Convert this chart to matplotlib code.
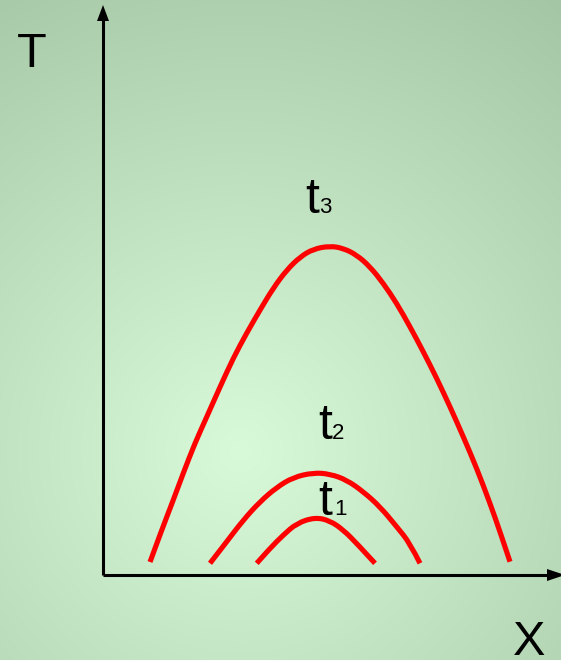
import numpy as np
import matplotlib
matplotlib.use("Agg")
import matplotlib.pyplot as plt
from matplotlib.path import Path
from matplotlib.patches import PathPatch

# Data (units: X from axis origin to the right, T upward from the axis)
t3_x = [47, 58.7, 70.3, 80.3, 92, 103.7, 117, 130.3, 143.7, 157, 170.3, 183.7, 197, 210.3, 227,
        240.3, 253.7, 267, 280.3, 293.7, 307, 320.3, 333.7, 347, 360.3, 373.7, 387, 397, 407]
t3_y = [13, 45, 75, 102, 132, 158, 188, 217, 242, 265, 287, 305, 318, 326, 329,
        326.7, 320, 308.3, 291.7, 271.7, 248.3, 223.3, 196.7, 168.3, 138.3, 106.7, 71.7, 43.3, 13.3]

t2_x = [107, 123.7, 140.3, 157, 173.7, 190.3, 210.3, 227, 243.7, 260.3, 277, 293.7, 307, 317]
t2_y = [11.7, 33.3, 55, 73.3, 87.7, 97.7, 102.3, 101, 95, 83.3, 68.3, 48.3, 31.7, 11.7]

t1_x = [153.7, 167, 180.3, 193.7, 212, 227, 240.3, 253.7, 272]
t1_y = [11.7, 26.7, 40, 51.7, 57.7, 54.3, 45, 31.7, 11.7]

labels = ["3", "2", "1"]
label_x = [202, 215, 215]
label_y = [362, 136, 60]
sub_dx = [14, 14, 16]

axis_labels = ["T", "X"]


def smooth_path(xs, ys):
    pts = list(zip(xs, ys))
    verts = [pts[0]]
    codes = [Path.MOVETO]
    for i in range(1, len(pts) - 1):
        mid = ((pts[i][0] + pts[i + 1][0]) / 2, (pts[i][1] + pts[i + 1][1]) / 2)
        if i == len(pts) - 2:
            mid = pts[i + 1]
        verts += [pts[i], mid]
        codes += [Path.CURVE3, Path.CURVE3]
    return Path(verts, codes)


fig = plt.figure(figsize=(5.61, 6.60), dpi=100)

# background radial gradient
bg = fig.add_axes([0, 0, 1, 1])
bg.set_axis_off()
W, H = 561, 660
yy, xx = np.mgrid[0:H, 0:W]
cx, cy = 240, 450
d = np.sqrt((xx - cx) ** 2 + (yy - cy) ** 2)
d = d / d.max()
c0 = np.array([0xd8, 0xfa, 0xd8]) / 255.0
c1 = np.array([0xa4, 0xc6, 0xa4]) / 255.0
img = c0[None, None, :] * (1 - d[..., None]) + c1[None, None, :] * d[..., None]
bg.imshow(img, extent=[0, W, H, 0], aspect='auto', zorder=0)
bg.set_xlim(0, W)
bg.set_ylim(H, 0)

ax = fig.add_axes([0, 0, 1, 1])
ax.set_axis_off()
ax.patch.set_alpha(0)
ax.set_xlim(-103, 458)
ax.set_ylim(-85, 575)

red = "#ff0000"
for xs, ys in [(t3_x, t3_y), (t2_x, t2_y), (t1_x, t1_y)]:
    ax.add_patch(PathPatch(smooth_path(xs, ys), facecolor='none', edgecolor=red,
                           lw=3.7, capstyle='butt', joinstyle='round'))

# axes with arrows
ax.plot([0, 0], [0, 555], color="black", lw=2.2, solid_capstyle='butt')
ax.plot([0, 448], [0, 0], color="black", lw=2.2, solid_capstyle='butt')
ax.fill([-6, 6, 0], [554, 554, 570], color="black", lw=0)
ax.fill([444, 444, 462], [6, -6, 0], color="black", lw=0)

font = "Liberation Sans"
for lab, lx, ly, dx in zip(labels, label_x, label_y, sub_dx):
    ax.text(lx, ly, "t", fontsize=36, family=font, ha='left', va='baseline')
    ax.text(lx + dx, ly, lab, fontsize=16, family=font, ha='left', va='baseline')

ax.text(-86, 508, axis_labels[0], fontsize=35, family=font, ha='left', va='baseline')
ax.text(410, -80, axis_labels[1], fontsize=35, family=font, ha='left', va='baseline')

fig.savefig("out.png", dpi=100)
